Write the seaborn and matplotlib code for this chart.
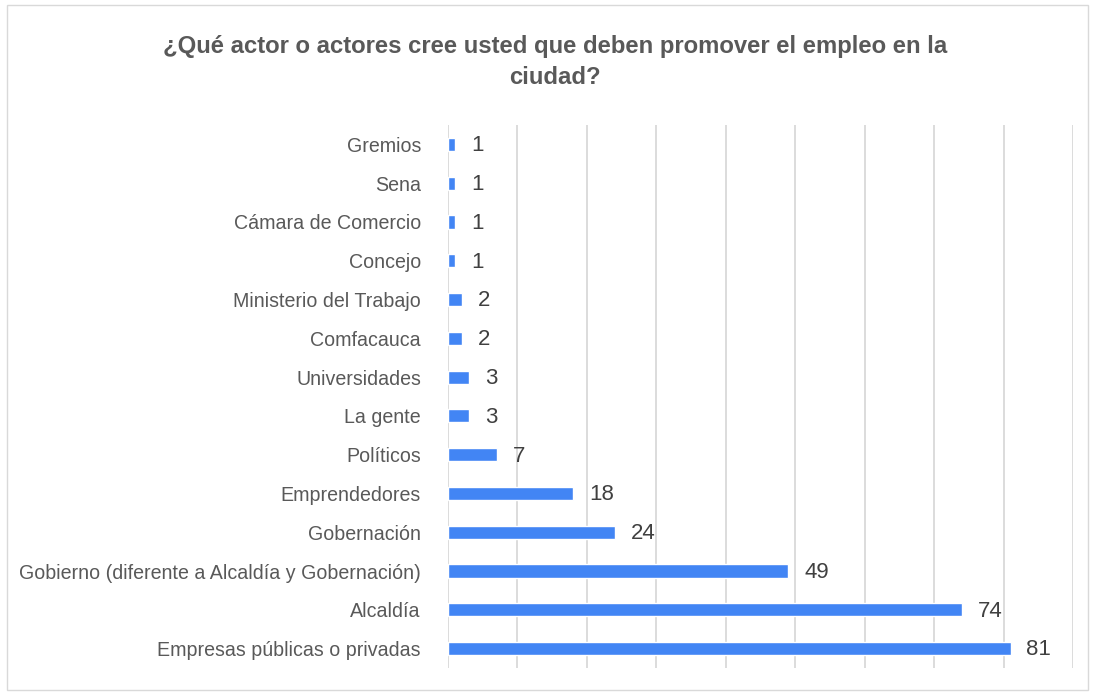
import matplotlib
matplotlib.use("Agg")
import matplotlib.pyplot as plt
import seaborn as sns
import pandas as pd

actores = ["Gremios", "Sena", "Cámara de Comercio", "Concejo", "Ministerio del Trabajo",
           "Comfacauca", "Universidades", "La gente", "Políticos", "Emprendedores",
           "Gobernación", "Gobierno (diferente a Alcaldía y Gobernación)", "Alcaldía",
           "Empresas públicas o privadas"]
votos = [1, 1, 1, 1, 2, 2, 3, 3, 7, 18, 24, 49, 74, 81]

df = pd.DataFrame({"actor": actores, "votos": votos})

sns.set_style("white")
plt.rcParams['font.family'] = ['Liberation Sans', 'DejaVu Sans']

fig = plt.figure(figsize=(10.94, 6.95), dpi=100)
ax = fig.add_axes([448 / 1094, 1 - 668 / 695, (1073 - 448) / 1094, (668 - 125) / 695])

sns.barplot(data=df, x="votos", y="actor", orient="h", color="#4285F4",
            width=0.34, saturation=1, ax=ax)

ax.set_xlim(0, 90)
ax.set_xticks(range(0, 91, 10))
ax.xaxis.grid(True, color="#d9d9d9", linewidth=1.3)
ax.set_axisbelow(True)
ax.tick_params(axis="x", bottom=False, labelbottom=False)
ax.tick_params(axis="y", left=False, pad=16, labelsize=14.1, labelcolor="#595959")
for s in ax.spines.values():
    s.set_visible(False)
ax.set_xlabel("")
ax.set_ylabel("")

for i, v in enumerate(votos):
    ax.annotate(str(v), (v, i), xytext=(11.5, -1), textcoords="offset points",
                va="center", ha="left", fontsize=16, color="#404040")

fig.text(555 / 1094, 1 - 62 / 695, "¿Qué actor o actores cree usted que deben promover el empleo en la\nciudad?",
         ha="center", va="center", fontsize=17.2, fontweight="bold", color="#595959",
         linespacing=1.45)

border = plt.Rectangle((7 / 1094, 5 / 695), 1081 / 1094, 685 / 695, transform=fig.transFigure,
                       fill=False, edgecolor="#d9d9d9", linewidth=1)
fig.patches.append(border)

fig.savefig("out.png", dpi=100)
